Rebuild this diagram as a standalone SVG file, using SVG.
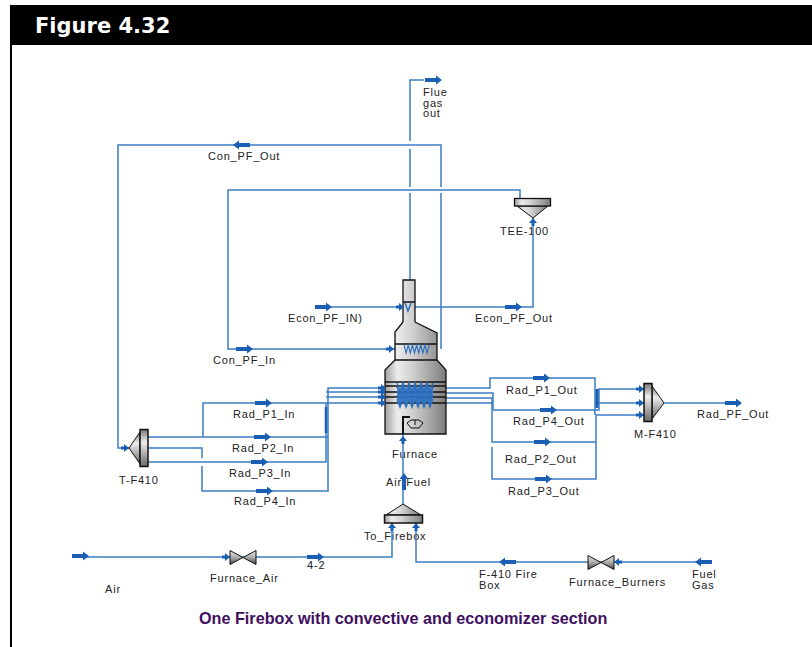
<svg xmlns="http://www.w3.org/2000/svg" width="812" height="647" viewBox="0 0 812 647">
<style>
.l{font-family:"Liberation Sans",Arial,sans-serif;font-size:11px;letter-spacing:.8px;fill:#222}
.c{fill:none;stroke:#3b7cc4;stroke-width:1.5}
.k{fill:none;stroke:#111;stroke-width:1.3}
.d{fill:none;stroke:#111;stroke-width:1.5}
.a{fill:#1a5fb4}
.coil{fill:none;stroke:#2a6fc0;stroke-width:1.5}
</style>
<defs>
<path id="ar" class="a" d="M0-2H11V-4.500L17 0L11 4.500V2H0Z"/>
<path id="sa" class="a" d="M0-1.500H3V-4L8 0L3 4V1.500H0Z"/>
<linearGradient id="h" x1="0" x2="1" y1="0" y2="0">
<stop offset="0" stop-color="#a0a0a0"/><stop offset=".2" stop-color="#ececec"/><stop offset=".45" stop-color="#d0d0d0"/><stop offset=".75" stop-color="#a4a4a4"/><stop offset="1" stop-color="#7c7c7c"/>
</linearGradient>
<linearGradient id="v" x1="0" x2="0" y1="0" y2="1">
<stop offset="0" stop-color="#777"/><stop offset=".35" stop-color="#eee"/><stop offset="1" stop-color="#666"/>
</linearGradient>
<linearGradient id="vc" x1="0" x2="0" y1="0" y2="1">
<stop offset="0" stop-color="#eee"/><stop offset=".5" stop-color="#aaa"/><stop offset="1" stop-color="#444"/>
</linearGradient>
<path id="zig" class="coil" d="M0-4L3 4L6-4L9 4L12-4L15 4L18-4L21 4L24-4L27 4L30-4L33 4L36-4"/>
</defs>
<rect width="812" height="647" fill="#fff"/>
<rect x="10" y="5" width="802" height="40" fill="#000"/>
<rect x="10" y="45" width="2" height="602" fill="#000"/>
<text x="35" y="33" font-family="DejaVu Sans,sans-serif" font-weight="700" font-size="21" fill="#fff">Figure 4.32</text>

<g id="labels">
<text class="l" x="423" y="96">Flue</text><text class="l" x="423" y="106.500">gas</text><text class="l" x="423" y="117">out</text>
<text class="l" x="208" y="160">Con_PF_Out</text>
<text class="l" x="500" y="235">TEE-100</text>
<text class="l" x="288" y="322">Econ_PF_IN)</text>
<text class="l" x="475" y="322">Econ_PF_Out</text>
<text class="l" x="213" y="364">Con_PF_In</text>
<text class="l" x="233" y="418">Rad_P1_In</text>
<text class="l" x="232" y="452">Rad_P2_In</text>
<text class="l" x="229" y="477">Rad_P3_In</text>
<text class="l" x="234" y="505">Rad_P4_In</text>
<text class="l" x="392" y="458">Furnace</text>
<text class="l" x="386" y="486">Air-Fuel</text>
<text class="l" x="119" y="484">T-F410</text>
<text class="l" x="364" y="540">To_Firebox</text>
<text class="l" x="210" y="582">Furnace_Air</text>
<text class="l" x="307" y="569">4-2</text>
<text class="l" x="479" y="578">F-410 Fire</text><text class="l" x="479" y="589">Box</text>
<text class="l" x="569" y="586">Furnace_Burners</text>
<text class="l" x="692" y="578">Fuel</text><text class="l" x="692" y="589">Gas</text>
<text class="l" x="105" y="593">Air</text>
<text class="l" x="506" y="394">Rad_P1_Out</text>
<text class="l" x="513" y="425">Rad_P4_Out</text>
<text class="l" x="505" y="463">Rad_P2_Out</text>
<text class="l" x="508" y="495">Rad_P3_Out</text>
<text class="l" x="634" y="438">M-F410</text>
<text class="l" x="697" y="418">Rad_PF_Out</text>
<text x="199" y="624" font-family="Liberation Sans,Arial,sans-serif" font-weight="700" font-size="16.200" fill="#3f1060">One Firebox with convective and economizer section</text>
</g>

<g id="connectors">
<path class="c" d="M410 280V193M410 187V149M410 141V80H424"/>
<path class="c" d="M441 349V193M441 187V145H118V448H130"/>
<path class="c" d="M395 349H228V190H520V199"/>
<path class="c" d="M315 307H533V218"/>
<path class="c" d="M148 437H328M203 437V403H326V462H148"/>
<path class="c" d="M148 448H202V458M202 466V491H328V388H385"/>
<path class="c" d="M326 392H385M326 397H385M326 403H385"/>
<path d="M326 407V433" fill="none" stroke="#1a5fb4" stroke-width="2.500"/>
<path class="c" d="M446 388H490V378H595V415M446 393H493V410H599V389H645"/>
<path class="c" d="M446 398H492V442H596V415H645M492 447V479H596V442M446 403H492M595 403H645"/>
<path d="M597 389V408" fill="none" stroke="#1a5fb4" stroke-width="3"/>
<path class="c" d="M664 403H725"/>
<path class="c" d="M403 504V434"/>
<path class="c" d="M72 557H392V523"/>
<path class="c" d="M416 523V562H700"/>
<use href="#ar" x="425" y="80"/>
<use href="#ar" x="234" y="145" transform="rotate(180 242 145)"/>
<use href="#ar" x="315" y="307"/>
<use href="#ar" x="505" y="307"/>
<use href="#ar" x="236" y="349"/>
<use href="#ar" x="255" y="403"/>
<use href="#ar" x="254" y="437"/>
<use href="#ar" x="251" y="462"/>
<use href="#ar" x="256" y="491"/>
<use href="#ar" x="533" y="378"/>
<use href="#ar" x="540" y="410"/>
<use href="#ar" x="534" y="442"/>
<use href="#ar" x="535" y="479"/>
<use href="#ar" x="725" y="403"/>
<use href="#ar" x="72" y="556"/>
<use href="#ar" x="307" y="557"/>
<use href="#ar" x="500" y="562" transform="rotate(180 508 562)"/>
<use href="#ar" x="696" y="562" transform="rotate(180 704 562)"/>
<use href="#ar" transform="translate(404 490) rotate(-90)"/>
<use href="#sa" x="121" y="448"/>
<use href="#sa" x="222" y="557"/>
<use href="#sa" transform="translate(622 562) rotate(180)"/>
<use href="#sa" transform="translate(392 531) rotate(-90)"/>
<use href="#sa" transform="translate(416 531) rotate(-90)"/>
<use href="#sa" transform="translate(533 226) rotate(-90)"/>
<use href="#sa" x="636" y="389"/>
<use href="#sa" x="636" y="403"/>
<use href="#sa" x="636" y="415"/>
<use href="#sa" transform="translate(403 444) rotate(-90)"/>
</g>

<g id="furnace">
<path d="M403 280H415V322L437 333V360L446 370V434H385V370L395 360V332L403 322Z" fill="url(#h)" stroke="none"/>
<path class="k" d="M403 322V280H415V322M403 302H415M395 344H437M403 322L395 332V360M415 322L437 333V360M395 360H437M395 360L385 370V434H446V370L437 360"/>
<path class="d" d="M385 382H446M385 386H446M385 392H446M385 397H446M385 403H446"/>
<use href="#zig" transform="translate(397 387)"/>
<use href="#zig" transform="translate(397 391)"/>
<use href="#zig" transform="translate(397 395)"/>
<use href="#zig" transform="translate(397 399)"/>
<use href="#zig" transform="translate(397 403)"/>
<use href="#zig" transform="translate(404 349) scale(.7 1)"/>
<path class="coil" d="M405 303L408 311L411 303"/>
<path d="M403 434V417H410" fill="none" stroke="#111" stroke-width="2"/>
<path d="M407 423L411 420H419L423 423L419 428H411Z M415 420V425" fill="none" stroke="#111"/>
<use href="#sa" transform="translate(378 388)"/>
<use href="#sa" transform="translate(378 392)"/>
<use href="#sa" transform="translate(378 397)"/>
<use href="#sa" transform="translate(378 403)"/>
<use href="#sa" transform="translate(386 349)"/>
<use href="#sa" transform="translate(396 307)"/>
</g>
<g id="T-F410">
<path d="M129 448L140 432V464Z" fill="url(#v)" stroke="#111"/>
<rect x="140" y="429.500" width="8" height="37" fill="url(#v)" stroke="#111" stroke-width="1.500"/>
</g>
<g id="M-F410">
<path d="M652 386L664 403L652 419Z" fill="url(#v)" stroke="#111"/>
<rect x="644" y="383.500" width="8" height="38" fill="url(#v)" stroke="#111" stroke-width="1.500"/>
</g>
<g id="TEE-100">
<path d="M517 206L533 218L548 206Z" fill="url(#h)" stroke="#111"/>
<rect x="514.500" y="198.500" width="36" height="7.500" fill="url(#h)" stroke="#111" stroke-width="1.300"/>
</g>
<g id="To_Firebox">
<path d="M403 504L386 515H421Z" fill="url(#h)" stroke="#111"/>
<rect x="384.500" y="515" width="38" height="8" fill="url(#h)" stroke="#111" stroke-width="1.500"/>
</g>
<g id="Furnace_Air">
<path d="M230 550.500L243 557.500L230 564.500ZM256 550.500L243 557.500L256 564.500Z" fill="url(#vc)" stroke="#111"/>
</g>
<g id="Furnace_Burners">
<path d="M588 555.500L601 562.500L588 569.500ZM614 555.500L601 562.500L614 569.500Z" fill="url(#vc)" stroke="#111"/>
</g>
</svg>
